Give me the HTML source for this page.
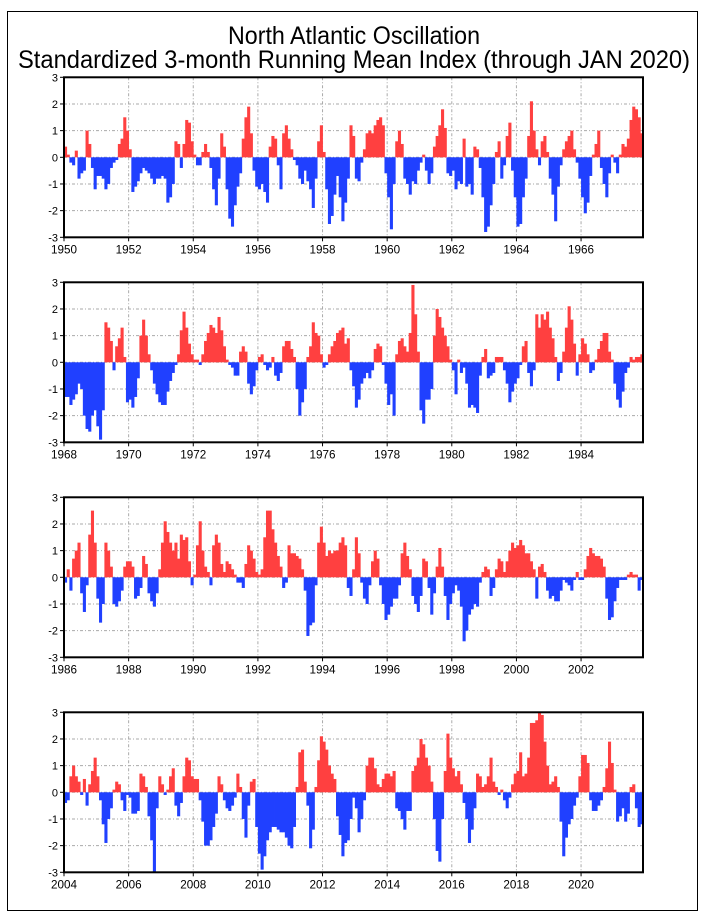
<!DOCTYPE html>
<html><head><meta charset="utf-8"><style>
html,body{margin:0;padding:0;background:#fff;}
svg{display:block;}
text{font-family:"Liberation Sans",sans-serif;fill:#000;}
</style></head><body>
<svg id="chart" width="708" height="916" viewBox="0 0 708 916" xmlns="http://www.w3.org/2000/svg">
<rect x="7.5" y="11.5" width="690" height="899" fill="none" stroke="#000" stroke-width="1"/>
<text x="354" y="44" text-anchor="middle" font-size="25" textLength="252" lengthAdjust="spacingAndGlyphs">North Atlantic Oscillation</text>
<text x="354" y="68" text-anchor="middle" font-size="25" textLength="672" lengthAdjust="spacingAndGlyphs">Standardized 3-month Running Mean Index (through JAN 2020)</text>
<g id="panels"></g>
</svg>
<script>
const startYears=[1950,1968,1986,2004];
const yTicks=[3,2,1,0,-1,-2,-3];
const nao1950=[0.4,0.1,-0.2,-0.3,0.25,-0.8,-0.6,-0.5,1.0,0.5,-0.4,-1.2,-0.7,-0.7,-0.8,-1.2,-1.0,-0.4,-0.2,-0.1,0.5,0.7,1.5,1.0,0.3,-1.3,-1.1,-0.9,-0.6,-0.4,-0.5,-0.6,-0.8,-1.0,-0.8,-0.8,-0.7,-0.8,-1.7,-1.5,-1.0,0.6,0.5,-0.4,0.5,1.4,1.3,0.6,0.1,-0.3,-0.3,0.2,0.5,0.2,-0.4,-1.2,-1.8,-0.8,0.9,0.4,-1.2,-2.3,-2.6,-1.8,-1.1,-0.6,0.7,1.5,1.9,0.9,-0.5,-1.1,-1.2,-1.0,-1.3,-1.7,0.4,0.8,0.7,-0.3,-1.2,0.9,1.2,0.7,0.3,-0.1,-0.3,-0.8,-1.0,-0.5,-0.9,-1.2,-1.9,-0.8,0.6,1.2,0.2,-1.2,-2.5,-2.2,-1.4,-0.7,-1.5,-2.4,-1.7,-0.8,1.2,0.8,-0.8,-0.9,-0.2,0.3,0.9,1.0,0.9,1.2,1.4,1.5,1.2,-0.6,-1.5,-2.7,-1.0,0.6,1.0,0.5,-0.8,-1.0,-1.4,-0.9,-1.0,-0.5,-0.2,0.1,-0.5,-1.0,-0.6,0.4,0.8,1.2,1.8,1.1,-0.6,-0.7,-0.5,-1.2,-0.9,-1.0,0.7,-1.1,-1.0,-1.4,0.4,0.3,-0.4,-1.5,-2.8,-2.6,-1.8,-1.0,0.2,0.6,-0.8,-0.3,0.8,1.3,-0.5,-1.5,-2.6,-2.5,-1.5,-0.8,0.8,2.1,1.0,0.3,-0.3,0.6,0.8,0.2,-0.8,-1.4,-2.4,-1.1,-0.3,0.3,0.6,0.8,1.0,0.3,-0.2,-0.8,-1.5,-2.1,-1.7,-0.7,0.1,0.5,1.0,-0.4,-1.0,-1.5,-0.6,0.1,-0.2,-0.6,0.1,0.5,0.4,0.7,1.4,1.9,1.8,1.5,0.9,-0.1];
const nao1968=[-1.3,-1.3,-1.6,-1.4,-1.2,-0.8,-1.0,-2.0,-2.5,-2.6,-2.0,-1.8,-2.4,-2.9,-1.8,1.5,1.3,0.8,-0.3,0.6,0.9,1.3,0.2,-1.5,-1.4,-1.7,-1.3,-0.6,1.0,1.6,1.0,0.3,-0.3,-0.8,-1.2,-1.5,-1.6,-1.6,-1.1,-0.7,-0.4,-0.1,0.3,1.2,1.9,1.3,0.7,0.3,0.1,0.1,-0.1,0.3,0.8,1.1,1.4,1.3,1.1,1.7,1.2,0.6,0.1,-0.1,-0.2,-0.5,-0.5,0.4,0.6,0.4,-0.8,-1.2,-0.9,-0.3,0.2,0.3,-0.1,-0.3,-0.2,0.2,-0.5,-0.7,-0.4,0.6,0.8,0.8,0.5,0.2,-1.0,-2.0,-1.5,-1.0,0.2,0.6,1.5,1.1,1.0,0.3,-0.2,-0.1,0.3,0.6,0.8,1.1,1.2,1.3,0.7,0.9,-0.3,-0.9,-1.7,-1.4,-0.8,-0.6,-0.4,-0.6,-0.3,0.5,0.7,0.6,-0.1,-0.8,-1.6,-1.2,-2.0,0.3,0.8,0.9,0.6,0.4,1.1,2.9,1.8,0.4,-1.8,-2.3,-1.4,-1.4,-1.0,1.0,2.0,1.7,1.3,1.0,0.6,0.1,-0.3,-1.2,0.1,-0.4,-0.2,-0.8,-1.7,-1.6,-1.7,-1.9,-0.5,0.2,0.5,-0.6,-0.5,-0.4,0.2,0.2,0.2,-0.3,-0.8,-1.5,-1.1,-0.8,-0.6,-0.1,0.6,0.8,-0.4,-0.9,-0.3,1.8,1.3,1.8,1.6,1.9,1.3,0.9,0.2,-0.7,-0.4,0.4,1.3,2.1,1.6,0.7,-0.5,0.3,0.9,0.7,0.3,-0.4,-0.3,0.1,0.5,0.8,1.1,1.1,0.4,0.1,-0.8,-1.4,-1.7,-1.1,-0.4,-0.2,0.2,0.1,0.2,0.2,0.3,0.3];
const nao1986=[-0.2,0.3,-0.5,0.7,1.0,1.3,-0.6,-1.3,-0.3,1.6,2.5,1.3,-0.8,-1.7,-1.0,1.3,1.0,0.4,-1.0,-1.1,-0.9,-0.5,0.4,0.6,0.6,0.4,-0.8,-0.7,-0.4,0.8,0.5,-0.6,-0.9,-1.1,-0.6,0.3,1.3,2.1,1.7,1.3,1.0,1.3,0.7,1.6,1.4,1.5,0.6,-0.3,0.1,1.2,2.1,1.0,0.4,0.2,-0.3,1.2,1.6,1.3,0.5,0.2,0.6,0.5,0.3,0.1,-0.2,-0.2,-0.4,0.5,1.2,1.0,0.7,0.2,0.1,0.3,1.5,2.5,2.5,1.8,1.3,0.8,0.4,-0.4,-0.2,1.2,0.9,0.9,0.8,0.7,0.3,-0.5,-2.2,-1.8,-1.7,-0.3,1.3,1.9,1.3,0.8,1.0,0.9,1.0,1.0,1.3,1.5,1.2,-0.4,-0.7,0.3,1.5,0.9,-0.2,-0.8,-1.0,-0.3,0.6,1.0,0.7,-0.3,-1.0,-1.6,-1.4,-1.1,-0.8,-0.8,-0.3,0.9,1.3,0.8,0.3,-0.7,-1.0,-1.3,-0.7,0.7,0.6,-0.4,-1.4,-0.6,0.4,1.1,0.4,-0.7,-1.6,-1.0,-0.6,-0.3,-0.5,-1.1,-2.4,-2.0,-1.4,-1.2,-1.0,-1.1,-0.2,0.2,0.4,0.3,-0.7,-0.4,0.3,0.7,0.6,0.2,0.6,1.0,1.3,1.1,1.2,1.4,1.2,0.9,0.9,0.6,0.3,-0.8,0.4,0.5,0.2,-0.5,-0.8,-0.7,-0.9,-0.9,-0.5,-0.1,-0.2,-0.3,-0.5,-0.1,0.2,-0.1,-0.1,0.3,0.8,1.1,0.9,0.8,0.8,0.7,0.4,-0.8,-1.6,-1.5,-0.9,-0.4,-0.1,-0.1,-0.1,0.1,0.2,0.1,0.1,-0.5,-0.1,0.2];
const nao2004=[-0.4,-0.3,0.6,1.0,0.6,0.4,-0.1,0.5,-0.5,0.3,0.8,1.3,0.6,-0.3,-1.2,-1.9,-1.0,-0.6,0.1,0.4,0.3,-0.3,-0.7,-0.1,-0.2,-0.8,-0.8,-0.7,0.7,0.6,0.2,-0.9,-1.8,-3.0,-0.6,0.6,0.3,-0.1,0.1,0.6,0.9,-0.5,-0.9,-0.4,0.6,1.3,1.2,0.6,0.5,0.5,-0.3,-1.1,-2.0,-2.0,-1.8,-1.3,-0.8,0.6,0.3,-0.3,-0.6,-0.7,-0.5,-0.2,0.7,0.2,-1.0,-1.7,-0.5,0.4,0.5,-1.3,-2.3,-2.9,-2.4,-1.8,-1.5,-1.3,-1.3,-1.4,-1.5,-1.5,-1.7,-2.0,-2.1,-1.3,0.2,1.5,1.6,0.4,-0.5,-2.1,-1.4,0.2,1.2,2.1,1.9,1.6,1.0,0.7,0.5,-0.9,-1.6,-2.4,-1.9,-1.8,-1.0,-0.2,-0.6,-1.5,-1.0,-0.3,1.0,1.3,1.3,0.9,0.3,0.2,0.5,0.7,0.7,0.6,0.8,-0.6,-0.7,-1.0,-1.4,-0.7,-0.7,0.8,1.0,1.3,2.0,1.8,1.3,1.0,0.4,-1.0,-2.2,-2.6,-1.0,0.8,2.2,1.3,0.9,0.6,0.8,0.3,-0.4,-1.0,-1.9,-1.4,-0.6,0.7,0.6,0.2,0.3,0.6,1.3,0.4,0.2,-0.1,0.1,-0.3,-0.6,-0.2,0.3,0.7,0.8,1.5,0.6,0.7,1.3,2.6,2.6,2.7,3.0,2.9,1.9,1.0,0.3,0.4,0.6,0.2,-1.1,-2.4,-1.7,-1.2,-1.0,-0.5,-0.2,0.6,1.4,1.4,1.1,-0.3,-0.7,-0.7,-0.5,-0.3,0.2,0.9,1.9,1.1,0.1,-1.1,-0.9,-0.6,-1.1,-0.8,0.2,0.3,-0.6,-1.3,-1.2,0.3];
const panelData=[nao1950,nao1968,nao1986,nao2004];

const NS="http://www.w3.org/2000/svg";
const root=document.getElementById('panels');
const X0=64, X1=643, UNIT=26.67, NMONTHS=215;
const zeros=[157.3,362.3,577.3,792.3];
function mk(tag,attrs,parent){const e=document.createElementNS(NS,tag);for(const k in attrs)e.setAttribute(k,attrs[k]);parent.appendChild(e);return e;}
const dx=(X1-X0)/NMONTHS;
function xScale(m){return X0+m*dx;}
startYears.forEach((sy,p)=>{
  const z=zeros[p];
  function yScale(v){return z-v*UNIT;}
  const g=mk('g',{},root);
  
  
  const top=yScale(3),bot=yScale(-3);
  yTicks.forEach(t=>{
    if(t===3||t===-3)return;
    const l=mk('line',{x1:X0,x2:X1,y1:yScale(t),y2:yScale(t),stroke:'#aaa','stroke-dasharray':'3,2,1,2','stroke-width':1},g);
    
    
  });
  for(let yr=2;yr<18;yr+=2){
    const x=xScale(yr*12);
    const l=mk('line',{x1:x,x2:x,y1:top,y2:bot,stroke:'#aaa','stroke-dasharray':'3,2,1,2','stroke-width':1},g);
    
    
  }
  const vals=panelData[p];
  vals.forEach((v,m)=>{
    if(m>=NMONTHS)return;
    const x=xScale(m);
    const y=v>=0?yScale(v):z;
    const h=Math.abs(v)*UNIT;
    const r=mk('rect',{x:x.toFixed(2),y:y.toFixed(2),width:(dx+0.4).toFixed(2),height:h.toFixed(2),fill:v>=0?'#ff4040':'#2040ff'},g);
    
    
  });
  const fr=mk('rect',{x:X0,y:top,width:X1-X0,height:bot-top,fill:'none',stroke:'#000','stroke-width':2},g);
  
  
  yTicks.forEach(t=>{
    mk('line',{x1:X0-4,x2:X0,y1:yScale(t),y2:yScale(t),stroke:'#000','stroke-width':1},g);
    const tx=mk('text',{x:X0-6,y:yScale(t)+4,'text-anchor':'end','font-size':11},g);
    tx.textContent=String(t);
    
    
  });
  for(let yr=0;yr<18;yr+=2){
    const x=xScale(yr*12);
    mk('line',{x1:x,x2:x,y1:bot,y2:bot+4,stroke:'#000','stroke-width':1},g);
    const tx=mk('text',{x:x,y:bot+16,'text-anchor':'middle','font-size':12,textLength:26,lengthAdjust:'spacingAndGlyphs'},g);
    tx.textContent=String(sy+yr);
    
    
  }
});
</script>
</body></html>
